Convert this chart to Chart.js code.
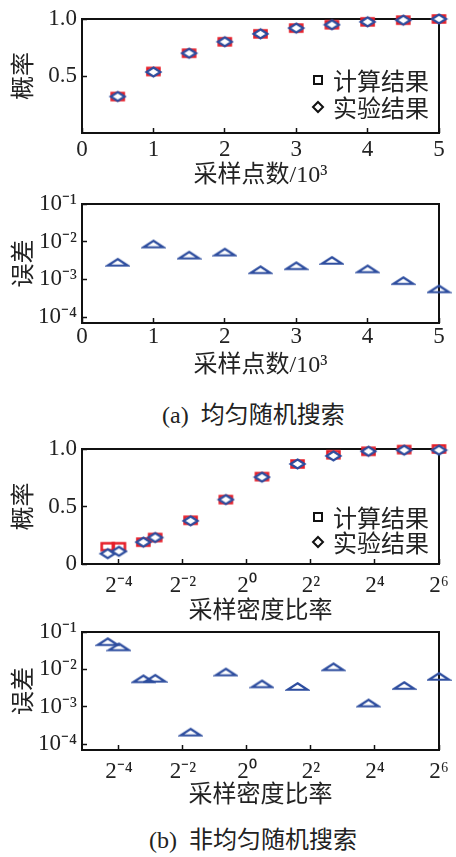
<!DOCTYPE html>
<html>
<head>
<meta charset="utf-8">
<script src="https://cdn.jsdelivr.net/npm/chart.js@4.4.1/dist/chart.umd.min.js"></script>
<style>
  html, body { margin: 0; padding: 0; background: #fff; }
  body { width: 456px; height: 857px; position: relative; overflow: hidden; }
  canvas { position: absolute; left: 0; }
  .cap { position: absolute; font: 24px 'Liberation Serif', 'Noto Sans CJK SC', serif; color: #222; white-space: pre; line-height: 1; }
</style>
</head>
<body>
<canvas id="c1" width="456" height="190" style="top:0px"></canvas>
<canvas id="c2" width="456" height="190" style="top:190px"></canvas>
<div class="cap" id="capA" style="left:162px; top:403px;"></div>
<canvas id="c3" width="456" height="196" style="top:430px"></canvas>
<canvas id="c4" width="456" height="200" style="top:610px"></canvas>
<div class="cap" id="capB" style="left:149px; top:828px;"></div>
<script>
// ---------------- data ----------------
const seriesNames = ['计算结果', '实验结果'];
const probTitle = '概率';
const errTitle = '误差';
const countTitle = '采样点数/10³';
const densityTitle = '采样密度比率';
const captionA = '(a)  均匀随机搜索';
const captionB = '(b)  非均匀随机搜索';

// (a) uniform random search, x in units of 10^3 sample points
const sampleCounts = [0.5, 1, 1.5, 2, 2.5, 3, 3.5, 4, 4.5, 5];
const uniformCalc  = [0.32, 0.54, 0.70, 0.80, 0.87, 0.92, 0.95, 0.975, 0.99, 1.0];
const uniformExp   = [0.32, 0.535, 0.70, 0.80, 0.87, 0.92, 0.95, 0.975, 0.99, 1.0];
const uniformErr   = [2.85e-3, 8.7e-3, 4.4e-3, 5.3e-3, 1.8e-3, 2.3e-3, 3.2e-3, 1.9e-3, 9.3e-4, 5.6e-4];

// (b) non-uniform random search, x = sampling density ratio
const densityRatios  = [0.049, 0.0625, 0.106, 0.137, 0.295, 0.633, 1.385, 2.99, 6.5, 13.9, 30.1, 64];
const nonuniformCalc = [0.15, 0.15, 0.19, 0.23, 0.38, 0.56, 0.76, 0.87, 0.95, 0.98, 0.995, 1.0];
const nonuniformExp  = [0.09, 0.11, 0.19, 0.23, 0.375, 0.56, 0.755, 0.87, 0.94, 0.98, 0.99, 0.99];
const nonuniformErr  = [0.055, 0.040, 5.6e-3, 5.8e-3, 2.1e-4, 8.5e-3, 4.1e-3, 3.5e-3, 0.0117, 1.26e-3, 3.7e-3, 6.5e-3];

// tick values and labels
const countTicks = [0, 1, 2, 3, 4, 5];
const countTickLabels = ['0', '1', '2', '3', '4', '5'];
const probTicksA = [0.5, 1.0];
const probTickLabelsA = ['0.5', '1.0'];
const probTicksB = [0, 0.5, 1.0];
const probTickLabelsB = ['0', '0.5', '1.0'];
const errTicks = [1e-1, 1e-2, 1e-3, 1e-4];
const errTickLabels = ['10⁻¹', '10⁻²', '10⁻³', '10⁻⁴'];
const densityTicks = [Math.pow(2, -4), Math.pow(2, -2), 1, 4, 16, 64];
const densityTickLabels = ['2⁻⁴', '2⁻²', '2⁰', '2²', '2⁴', '2⁶'];

// ---------------- styles ----------------
const RED = '#e61e28';
const BLUE = '#2c4c9e';
const TXT = '#222';
const SERIF = "'Liberation Serif', 'Noto Sans CJK SC', serif";
const CJK = "'Noto Sans CJK SC', 'Liberation Serif', sans-serif";

document.getElementById('capA').textContent = captionA;
document.getElementById('capB').textContent = captionB;

function shape(kind, w, h, color, lw, fill) {
  const c = document.createElement('canvas');
  c.width = Math.ceil(w + lw + 2);
  c.height = Math.ceil(h + lw + 2);
  const g = c.getContext('2d');
  const cx = c.width / 2, cy = c.height / 2;
  g.lineWidth = lw; g.strokeStyle = color; g.lineJoin = 'miter';
  g.beginPath();
  if (kind === 'rect') {
    g.rect(cx - w / 2, cy - h / 2, w, h);
  } else if (kind === 'diamond') {
    g.moveTo(cx, cy - h / 2); g.lineTo(cx + w / 2, cy); g.lineTo(cx, cy + h / 2); g.lineTo(cx - w / 2, cy); g.closePath();
  } else {
    g.moveTo(cx, cy - h / 2); g.lineTo(cx + w / 2, cy + h / 2); g.lineTo(cx - w / 2, cy + h / 2); g.closePath();
  }
  if (fill) { g.fillStyle = fill; g.fill(); }
  g.stroke();
  return c;
}
const redRect = shape('rect', 12, 7, RED, 2.6, null);
const blueDiamond = shape('diamond', 14, 9, BLUE, 2.2, '#fff');
const blueTri = shape('tri', 20, 6.5, BLUE, 2.2, null);
const legRect = shape('rect', 8, 8, '#111', 2, null);
const legDiamond = shape('diamond', 10, 10, '#111', 2, null);

const boxPlugin = {
  id: 'box',
  beforeDatasetsDraw(chart) {
    const a = chart.chartArea, ctx = chart.ctx;
    ctx.save();
    ctx.strokeStyle = '#111';
    ctx.lineWidth = 2;
    ctx.strokeRect(a.left, a.top, a.right - a.left, a.bottom - a.top);
    ctx.restore();
  }
};
const innerLegend = {
  id: 'innerLegend',
  afterDatasetsDraw(chart, args, opts) {
    if (!opts || !opts.show) return;
    const ctx = chart.ctx;
    const marks = [legRect, legDiamond];
    ctx.save();
    ctx.font = '24px ' + CJK;
    ctx.fillStyle = TXT;
    ctx.textBaseline = 'middle';
    ctx.textAlign = 'left';
    opts.rows.forEach((y, i) => {
      const m = marks[i];
      ctx.drawImage(m, opts.mx - m.width / 2, y - m.height / 2);
      ctx.fillText(seriesNames[i], opts.tx, y + 1);
    });
    ctx.restore();
  }
};

function fixY(scale) { scale.width = 82; scale.paddingTop = 0; scale.paddingBottom = 0; }
function xAxisFit(h) { return (scale) => { scale.height = h; scale.paddingLeft = 0; scale.paddingRight = 0; }; }

function baseGrid() {
  return { display: true, drawOnChartArea: false, drawTicks: true, tickLength: -5, tickColor: '#111', tickWidth: 1.5 };
}
function yTitle(text) {
  return { display: true, text: text, color: TXT, font: { family: CJK, size: 24 }, padding: { top: 7, bottom: 0 } };
}
function xTitle(text) {
  return { display: true, text: text, color: TXT, font: { family: SERIF, size: 24 }, padding: { top: 0, bottom: 0 } };
}
const tickFont = { family: SERIF, size: 23 };

function makeChart(id, cfg) {
  return new Chart(document.getElementById(id), {
    type: 'scatter',
    data: { datasets: cfg.datasets },
    options: {
      responsive: false,
      animation: false,
      devicePixelRatio: 1,
      events: [],
      layout: { padding: { top: cfg.padTop, right: 17, bottom: 0, left: 0 } },
      plugins: { legend: { display: false }, tooltip: { enabled: false }, innerLegend: cfg.legend || { show: false } },
      scales: { x: cfg.x, y: cfg.y }
    },
    plugins: [boxPlugin, innerLegend]
  });
}
function pts(xs, ys) { return xs.map((x, i) => ({ x: x, y: ys[i] })); }

function probDatasets(xs, calc, exp) {
  return [
    { label: seriesNames[0], data: pts(xs, calc), pointStyle: redRect, pointRadius: 6, showLine: false, clip: false, order: 2 },
    { label: seriesNames[1], data: pts(xs, exp), pointStyle: blueDiamond, pointRadius: 6, showLine: false, clip: false, order: 1 }
  ];
}
function errDataset(xs, err) {
  return [{ label: errTitle, data: pts(xs, err), pointStyle: blueTri, pointRadius: 6, showLine: false, clip: false }];
}

function countAxis(pad) {
  return {
    type: 'linear', min: 0, max: 5,
    afterBuildTicks: s => { s.ticks = countTicks.map(v => ({ value: v })); },
    ticks: { color: TXT, font: tickFont, padding: pad, maxRotation: 0, autoSkip: false,
             callback: (v, i) => countTickLabels[i] },
    grid: baseGrid(), border: { display: false },
    title: xTitle(countTitle),
    afterFit: xAxisFit(57)
  };
}
function densityAxis(pad, h) {
  return {
    type: 'logarithmic', min: 0.02809, max: 64,
    afterBuildTicks: s => { s.ticks = densityTicks.map(v => ({ value: v })); },
    ticks: { color: TXT, font: tickFont, padding: pad, maxRotation: 0, autoSkip: false,
             callback: (v, i) => densityTickLabels[i] },
    grid: baseGrid(), border: { display: false },
    title: xTitle(densityTitle),
    afterFit: xAxisFit(h)
  };
}
function probAxis(ticks, labels) {
  return {
    type: 'linear', min: 0, max: 1,
    afterBuildTicks: s => { s.ticks = ticks.map(v => ({ value: v })); },
    ticks: { color: TXT, font: tickFont, padding: 10, autoSkip: false, callback: (v, i) => labels[i] },
    grid: baseGrid(), border: { display: false },
    title: yTitle(probTitle),
    afterFit: fixY
  };
}
function errAxis() {
  return {
    type: 'logarithmic', min: 7.2e-5, max: 0.1,
    afterBuildTicks: s => { s.ticks = errTicks.map(v => ({ value: v })); },
    ticks: { color: TXT, font: tickFont, padding: 10, autoSkip: false, callback: (v, i) => errTickLabels[i] },
    grid: baseGrid(), border: { display: false },
    title: yTitle(errTitle),
    afterFit: fixY
  };
}

function drawAll() {
  makeChart('c1', {
    padTop: 19,
    datasets: probDatasets(sampleCounts, uniformCalc, uniformExp),
    x: countAxis(8),
    y: probAxis(probTicksA, probTickLabelsA),
    legend: { show: true, mx: 318, tx: 333, rows: [80, 107] }
  });
  makeChart('c2', {
    padTop: 14,
    datasets: errDataset(sampleCounts, uniformErr),
    x: countAxis(5),
    y: errAxis()
  });
  makeChart('c3', {
    padTop: 19,
    datasets: probDatasets(densityRatios, nonuniformCalc, nonuniformExp),
    x: densityAxis(13, 62),
    y: probAxis(probTicksB, probTickLabelsB),
    legend: { show: true, mx: 318, tx: 333, rows: [87, 112] }
  });
  makeChart('c4', {
    padTop: 22,
    datasets: errDataset(densityRatios, nonuniformErr),
    x: densityAxis(13, 60),
    y: errAxis()
  });
}

const fontLoads = [
  document.fonts.load("23px 'Liberation Serif'", '0123456789.⁻¹²³⁴⁰'),
  document.fonts.load("24px 'Noto Sans CJK SC'", '概率误差计算结果实验采样点数密度比')
];
let drawn = false;
function go() { if (!drawn) { drawn = true; drawAll(); } }
Promise.all(fontLoads).then(go, go);
setTimeout(go, 1500);
</script>
</body>
</html>
